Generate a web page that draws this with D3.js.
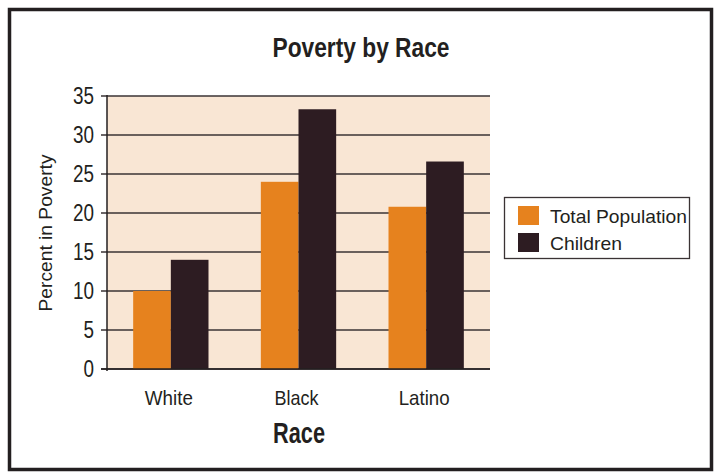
<!DOCTYPE html>
<html>
<head>
<meta charset="utf-8">
<script src="https://cdn.jsdelivr.net/npm/d3@7"></script>
<style>
  html, body { margin: 0; padding: 0; background: #fff; }
  svg text { font-family: "Liberation Sans", Arial, sans-serif; fill: #231f20; }
</style>
</head>
<body>
<div id="chart"></div>
<script>
// Poverty by race: total population vs children
const races = ['White', 'Black', 'Latino'];
const seriesNames = ['Total Population', 'Children'];
const totalPop = [10, 24, 20.8];
const children = [14, 33.3, 26.6];
const yTicks = [0, 5, 10, 15, 20, 25, 30, 35];
const colors = ['#e6821e', '#2d1c22'];

(function () {
  const W = 717, H = 476;
  const plot = { left: 107, right: 490, top: 96, bottom: 369 };

  const svg = d3.select('#chart').append('svg')
    .attr('width', W).attr('height', H);

  // squeeze text to a narrow width, like the condensed face of the original
  function narrow(sel, w) {
    sel.attr('textLength', w).attr('lengthAdjust', 'spacingAndGlyphs');
    return sel;
  }

  // outer frame
  svg.append('rect')
    .attr('x', 9.5).attr('y', 9.5)
    .attr('width', 702).attr('height', 460)
    .attr('fill', '#fff')
    .attr('stroke', '#231f20').attr('stroke-width', 3.5);

  const x0 = d3.scaleBand().domain(races).range([plot.left, plot.right]).paddingInner(0.41).paddingOuter(0.205);
  const x1 = d3.scaleBand().domain(seriesNames).range([0, x0.bandwidth()]);
  const y = d3.scaleLinear().domain([0, 35]).range([plot.bottom, plot.top]);

  // plot background
  svg.append('rect')
    .attr('x', plot.left).attr('y', plot.top)
    .attr('width', plot.right - plot.left).attr('height', plot.bottom - plot.top)
    .attr('fill', '#f9e6d4');

  // gridlines + ticks
  svg.append('g').selectAll('line')
    .data(yTicks)
    .enter().append('line')
    .attr('x1', plot.left - 6).attr('x2', plot.right)
    .attr('y1', d => y(d)).attr('y2', d => y(d))
    .attr('stroke', '#3a3334').attr('stroke-width', 1.4);

  // bars
  const rows = races.map((r, i) => ({ race: r, vals: [totalPop[i], children[i]] }));
  const grp = svg.append('g').selectAll('g')
    .data(rows)
    .enter().append('g')
    .attr('transform', d => `translate(${x0(d.race)},0)`);
  grp.selectAll('rect')
    .data(d => d.vals.map((v, j) => ({ key: seriesNames[j], v, j })))
    .enter().append('rect')
    .attr('x', d => x1(d.key))
    .attr('width', x1.bandwidth())
    .attr('y', d => y(d.v))
    .attr('height', d => y(0) - y(d.v))
    .attr('fill', d => colors[d.j]);

  // axes lines
  svg.append('line')
    .attr('x1', plot.left).attr('x2', plot.left)
    .attr('y1', plot.top - 1).attr('y2', plot.bottom + 2)
    .attr('stroke', '#231f20').attr('stroke-width', 1.5);
  svg.append('line')
    .attr('x1', plot.left - 6).attr('x2', plot.right)
    .attr('y1', plot.bottom).attr('y2', plot.bottom)
    .attr('stroke', '#231f20').attr('stroke-width', 1.6);

  // y tick labels
  svg.append('g').selectAll('text')
    .data(yTicks)
    .enter().append('text')
    .attr('x', 94).attr('y', d => y(d))
    .attr('dy', '0.36em')
    .attr('text-anchor', 'end')
    .style('font-size', '23px')
    .each(function (d) { narrow(d3.select(this), String(d).length * 10.5); })
    .text(d => d);

  // x labels
  const xLabelW = [48, 44, 51];
  svg.append('g').selectAll('text')
    .data(races)
    .enter().append('text')
    .attr('x', d => x0(d) + x0.bandwidth() / 2 - 2)
    .attr('y', 405)
    .attr('text-anchor', 'middle')
    .style('font-size', '21px')
    .each(function (d, i) { narrow(d3.select(this), xLabelW[i]); })
    .text(d => d);

  // titles
  narrow(svg.append('text')
    .attr('x', 361).attr('y', 57)
    .attr('text-anchor', 'middle')
    .style('font-size', '27px').style('font-weight', 'bold'), 177)
    .text('Poverty by Race');

  narrow(svg.append('text')
    .attr('x', 299).attr('y', 443)
    .attr('text-anchor', 'middle')
    .style('font-size', '30px').style('font-weight', 'bold'), 52)
    .text('Race');

  narrow(svg.append('text')
    .attr('transform', `translate(52,233)rotate(-90)`)
    .attr('text-anchor', 'middle')
    .style('font-size', '19px'), 157)
    .text('Percent in Poverty');

  // legend
  const legendW = [137, 72];
  const lg = svg.append('g');
  lg.append('rect')
    .attr('x', 504.5).attr('y', 197.5)
    .attr('width', 185).attr('height', 61)
    .attr('fill', '#fff').attr('stroke', '#3a3334').attr('stroke-width', 1.3);
  seriesNames.forEach((name, i) => {
    lg.append('rect')
      .attr('x', 518).attr('y', 206 + i * 27)
      .attr('width', 21).attr('height', 19)
      .attr('fill', colors[i]);
    narrow(lg.append('text')
      .attr('x', 550).attr('y', 223 + i * 27)
      .style('font-size', '19px'), legendW[i])
      .text(name);
  });
})();
</script>
</body>
</html>
